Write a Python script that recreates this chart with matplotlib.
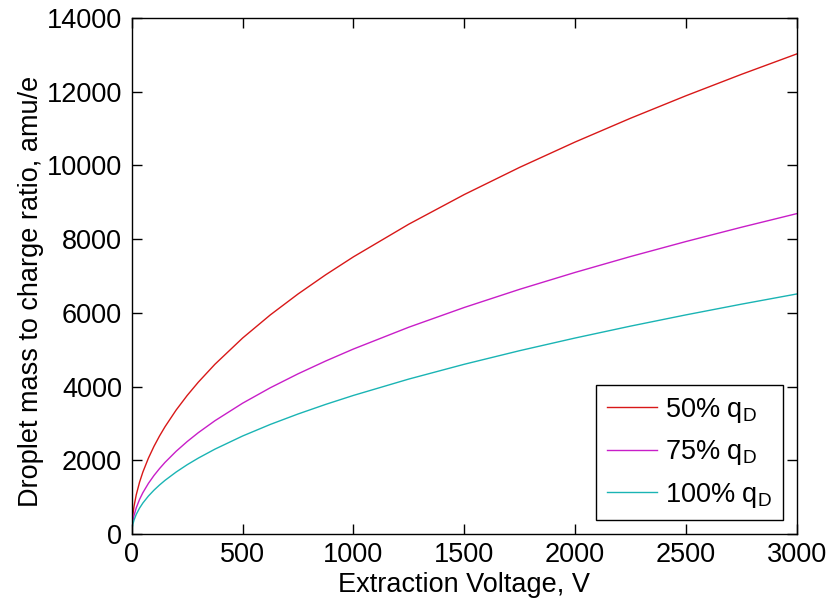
import matplotlib

matplotlib.use("Agg")
import matplotlib.pyplot as plt

# extraction voltage (V) and droplet mass-to-charge ratio (amu/e)
voltage = [1, 3, 5, 10, 20, 35, 50, 75, 100, 125, 150, 200, 250, 300, 375, 500, 625,
           750, 875, 1000, 1250, 1500, 1750, 2000, 2250, 2500, 2750, 3000]
mq_50 = [238, 412, 532, 752, 1063, 1407, 1682, 2059, 2378, 2659, 2912, 3363, 3760,
         4119, 4605, 5317, 5945, 6512, 7034, 7520, 8407, 9210, 9948, 10635, 11280,
         11890, 12470, 13025]
mq_75 = [159, 275, 355, 502, 710, 939, 1122, 1374, 1587, 1774, 1944, 2244, 2509,
         2749, 3073, 3549, 3968, 4346, 4694, 5019, 5611, 6146, 6639, 7097, 7528,
         7935, 8322, 8692]
mq_100 = [119, 206, 266, 376, 532, 703, 841, 1030, 1189, 1329, 1456, 1681, 1880,
          2059, 2302, 2659, 2973, 3256, 3517, 3760, 4204, 4605, 4974, 5317, 5640,
          5945, 6235, 6512]
labels = ["50% q$_\\mathregular{D}$", "75% q$_\\mathregular{D}$", "100% q$_\\mathregular{D}$"]
colors = ["#d81818", "#c81ec8", "#1ab4b4"]
x_ticks = [0, 500, 1000, 1500, 2000, 2500, 3000]
y_ticks = [0, 2000, 4000, 6000, 8000, 10000, 12000, 14000]

plt.rcParams["font.family"] = ["Liberation Sans", "DejaVu Sans"]
FS = 19.5

fig = plt.figure(figsize=(8.29, 6.01), dpi=100)
ax = fig.add_axes([0.159, 0.1115, 0.802, 0.8585])

for ys, label, color in zip([mq_50, mq_75, mq_100], labels, colors):
    ax.plot(voltage, ys, color=color, linewidth=1.0, label=label)

ax.set_xlim(0, 3000)
ax.set_ylim(0, 14000)
ax.set_xticks(x_ticks)
ax.set_yticks(y_ticks)
ax.tick_params(direction="in", length=7, width=1, top=True, right=True, labelsize=FS)
ax.tick_params(axis="x", pad=6)
ax.tick_params(axis="y", pad=7)
for spine in ax.spines.values():
    spine.set_linewidth(1.0)
ax.set_xlabel("Extraction Voltage, V", fontsize=FS, labelpad=3)
ax.set_ylabel("Droplet mass to charge ratio, amu/e", fontsize=FS, labelpad=2)
ax.yaxis.label.set_y(0.47)

leg = ax.legend(loc="lower right", fontsize=FS, frameon=True, fancybox=False,
                edgecolor="black", framealpha=1, handlelength=1.85, handletextpad=0.3,
                borderpad=0.4, labelspacing=0.5, borderaxespad=0.5)
leg.get_frame().set_linewidth(1.0)

fig.savefig("out.png", dpi=100)
